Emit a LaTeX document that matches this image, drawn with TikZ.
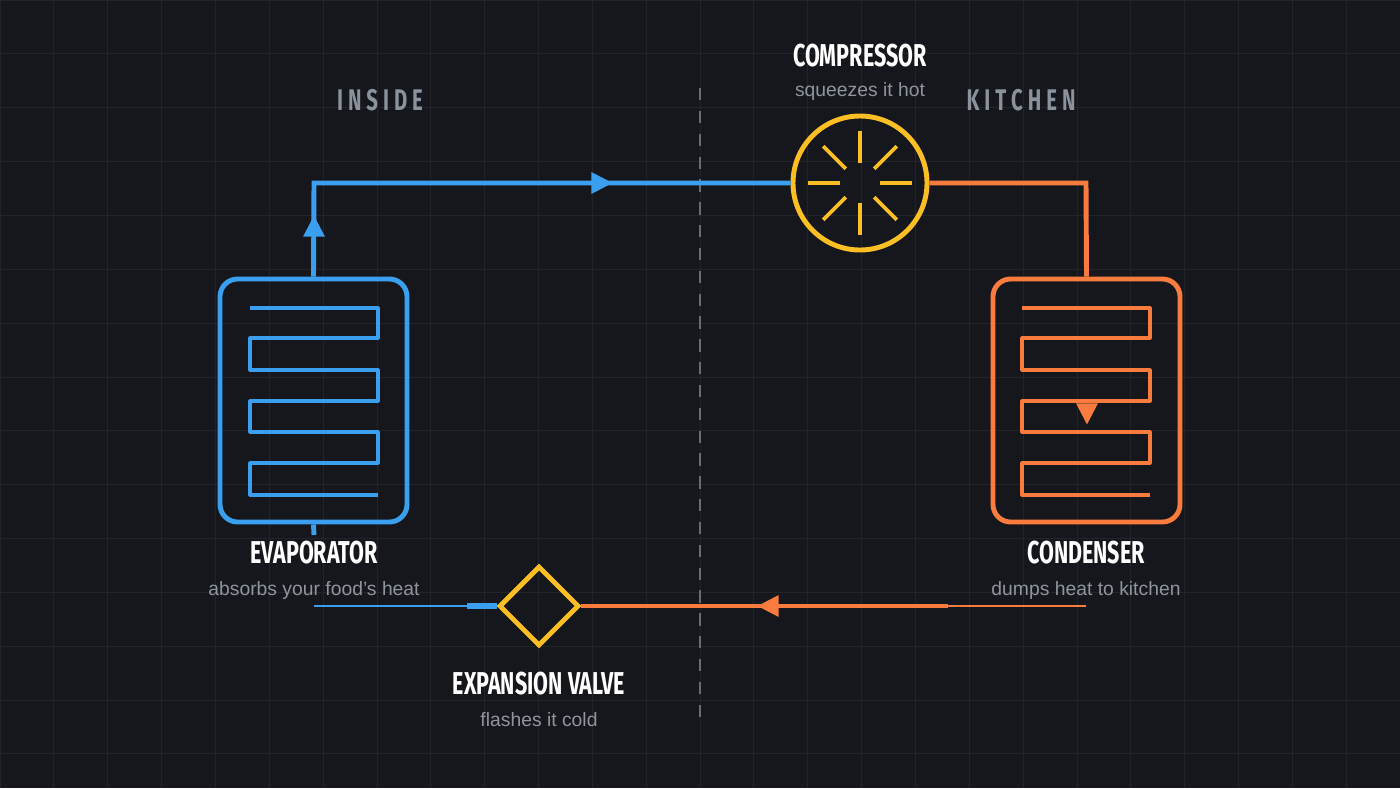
\documentclass[tikz,border=0pt]{standalone}
\usepackage{fontspec}
\setmainfont{Liberation Sans}
\newfontfamily\headfont[FakeStretch=0.68]{Fira Sans}
\usetikzlibrary{arrows.meta,shapes.geometric,calc}
\definecolor{bg}{HTML}{16171C}
\definecolor{cblue}{HTML}{3B9FF0}
\definecolor{corange}{HTML}{F97B3D}
\definecolor{cyellow}{HTML}{FBBF24}
\definecolor{sub}{HTML}{8E959F}
\definecolor{side}{HTML}{8A929C}
\definecolor{gridc}{HTML}{22242A}
\tikzset{
  head/.style={text=white,font=\headfont\bfseries\fontsize{18}{20}\selectfont,inner sep=0},
  subt/.style={text=sub,font=\fontsize{11}{13}\selectfont,inner sep=0},
  sidel/.style={text=side,font=\headfont\bfseries\fontsize{17}{20}\selectfont,inner sep=0},
  pipe/.style={line width=2.8pt},
  coil/.style={line width=1.8pt,line join=round},
  box/.style={rectangle,rounded corners=10pt,line width=2.8pt,minimum width=187*0.02cm,minimum height=243*0.02cm,inner sep=0},
  tri/.style={isosceles triangle,isosceles triangle apex angle=55,inner sep=0,minimum height=12pt,minimum width=11pt}
}
\begin{document}
\begin{tikzpicture}[x=0.02cm,y=-0.02cm]
\fill[bg] (0,0) rectangle (1400,788);
\useasboundingbox (0,0) rectangle (1400,788);
\foreach \i in {0,...,26} \draw[gridc,line width=0.5pt] (\i*53.85,0) -- (\i*53.85,788);
\foreach \j in {0,...,15} \draw[gridc,line width=0.5pt] (0,\j*53.85) -- (1400,\j*53.85);
\draw[side!70!bg,dashed,line width=1pt,dash pattern=on 7pt off 6pt] (700,88) -- (700,720);
% labels
\node[sidel] (inside) at (380,100) {I\,N\,S\,I\,D\,E};
\node[sidel] (kitchen) at (1021,100) {K\,I\,T\,C\,H\,E\,N};
\node[head] (tcomp) at (860,56) {COMPRESSOR};
\node[subt] (scomp) at (860,92) {squeezes it hot};
\node[head] (tevap) at (314,553) {EVAPORATOR};
\node[subt] (sevap) at (314,590) {absorbs your food's heat};
\node[head] (tcond) at (1086,553) {CONDENSER};
\node[subt] (scond) at (1086,590) {dumps heat to kitchen};
\node[head] (tvalve) at (539,684) {EXPANSION VALVE};
\node[subt] (svalve) at (539,720) {flashes it cold};
% components
\node[box,draw=cblue] (evap) at (313.5,400.5) {};
\node[box,draw=corange] (cond) at (1086.5,400.5) {};
\node[circle,draw=cyellow,line width=2.8pt,minimum size=134*0.02cm,inner sep=0] (comp) at (860,183) {};
\node[diamond,draw=cyellow,line width=2.8pt,minimum width=80*0.02cm,minimum height=80*0.02cm,inner sep=0] (valve) at (539,606) {};
\foreach \a in {0,45,...,315}
  \draw[cyellow,line width=2.2pt] ($(comp)+(\a:20)$) -- ($(comp)+(\a:52)$);
% coils
\foreach \dx/\c in {0/cblue,772/corange}{
\draw[\c,coil] (250+\dx,308) -- (378+\dx,308) -- (378+\dx,338) -- (250+\dx,338) -- (250+\dx,370) -- (378+\dx,370) -- (378+\dx,401) -- (250+\dx,401) -- (250+\dx,432) -- (378+\dx,432) -- (378+\dx,463) -- (250+\dx,463) -- (250+\dx,495) -- (378+\dx,495);
}
% coordinates
\coordinate (ec) at (314,183);
\coordinate (cc) at (1086,183);
\coordinate (eb) at (314,535);
\coordinate (el) at (314,606);
\coordinate (cl) at (1086,606);
% pipes
\draw[cblue,pipe] (evap.north) -- (ec) -- (comp.west);
\draw[corange,pipe] (comp.east) -- (cc) -- (cond.north);
\draw[cblue,pipe] (evap.south) -- (eb);
\draw[cblue,line width=1.6pt] (el) -- (valve.west);
\draw[cblue,line width=3pt] (467,606) -- (valve.west);
\draw[corange,line width=1.6pt] (cl) -- (948,606);
\draw[corange,pipe] (948,606) -- (valve.east);
% arrows
\node[tri,fill=cblue,rotate=90] (a1) at (314,230) {};
\node[tri,fill=cblue] (a2) at (598,183) {};
\node[tri,fill=corange,rotate=-90] (a3) at (1087,410) {};
\node[tri,fill=corange,rotate=180] (a4) at (772,606) {};
\end{tikzpicture}
\end{document}
